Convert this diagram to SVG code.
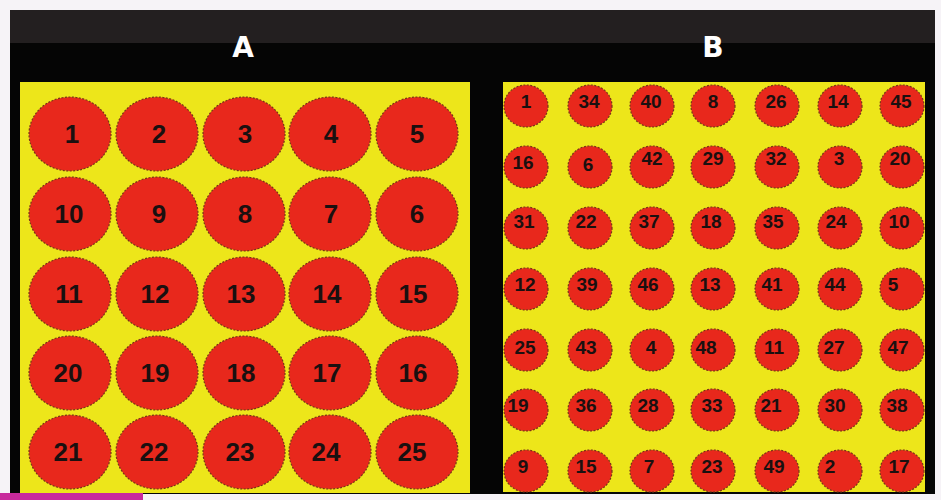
<svg xmlns="http://www.w3.org/2000/svg" width="941" height="500" viewBox="0 0 941 500">
<style>
.ca{fill:#e8281c;stroke:#7a3418;stroke-width:1.2;stroke-dasharray:2 1.5}
.ta{font-family:"Liberation Sans",Arial,sans-serif;font-weight:bold;font-size:26px;fill:#1a1010;text-anchor:middle}
.tb{font-family:"Liberation Sans",Arial,sans-serif;font-weight:bold;font-size:19px;fill:#1a1010;text-anchor:middle}
.hd{font-family:"DejaVu Sans",sans-serif;font-weight:bold;font-size:28px;fill:#ffffff;text-anchor:middle}
</style>
<rect x="0" y="0" width="941" height="500" fill="#f6f3f7"/>
<rect x="10" y="10" width="925" height="484" fill="#050505"/>
<rect x="10" y="10" width="925" height="33" fill="#231f20"/>
<rect x="0" y="493" width="143" height="7" fill="#c82a9c"/>
<text class="hd" x="243" y="57">A</text>
<text class="hd" x="713" y="57">B</text>
<g id="panelA">
<rect x="20" y="82" width="450" height="411" fill="#ede61a"/>
<g id="a1"><ellipse class="ca" cx="70" cy="134" rx="41" ry="37"/><text class="ta" x="72" y="143">1</text></g>
<g id="a2"><ellipse class="ca" cx="157" cy="134" rx="41" ry="37"/><text class="ta" x="159" y="143">2</text></g>
<g id="a3"><ellipse class="ca" cx="244" cy="134" rx="41" ry="37"/><text class="ta" x="245" y="143">3</text></g>
<g id="a4"><ellipse class="ca" cx="330" cy="134" rx="41" ry="37"/><text class="ta" x="331" y="143">4</text></g>
<g id="a5"><ellipse class="ca" cx="417" cy="134" rx="41" ry="37"/><text class="ta" x="417" y="143">5</text></g>
<g id="a10"><ellipse class="ca" cx="70" cy="214" rx="41" ry="37"/><text class="ta" x="69" y="223">10</text></g>
<g id="a9"><ellipse class="ca" cx="157" cy="214" rx="41" ry="37"/><text class="ta" x="159" y="223">9</text></g>
<g id="a8"><ellipse class="ca" cx="244" cy="214" rx="41" ry="37"/><text class="ta" x="245" y="223">8</text></g>
<g id="a7"><ellipse class="ca" cx="330" cy="214" rx="41" ry="37"/><text class="ta" x="331" y="223">7</text></g>
<g id="a6"><ellipse class="ca" cx="417" cy="214" rx="41" ry="37"/><text class="ta" x="417" y="223">6</text></g>
<g id="a11"><ellipse class="ca" cx="70" cy="294" rx="41" ry="37"/><text class="ta" x="69" y="303">11</text></g>
<g id="a12"><ellipse class="ca" cx="157" cy="294" rx="41" ry="37"/><text class="ta" x="155" y="303">12</text></g>
<g id="a13"><ellipse class="ca" cx="244" cy="294" rx="41" ry="37"/><text class="ta" x="241" y="303">13</text></g>
<g id="a14"><ellipse class="ca" cx="330" cy="294" rx="41" ry="37"/><text class="ta" x="327" y="303">14</text></g>
<g id="a15"><ellipse class="ca" cx="417" cy="294" rx="41" ry="37"/><text class="ta" x="413" y="303">15</text></g>
<g id="a20"><ellipse class="ca" cx="70" cy="373" rx="41" ry="37"/><text class="ta" x="68" y="382">20</text></g>
<g id="a19"><ellipse class="ca" cx="157" cy="373" rx="41" ry="37"/><text class="ta" x="155" y="382">19</text></g>
<g id="a18"><ellipse class="ca" cx="244" cy="373" rx="41" ry="37"/><text class="ta" x="241" y="382">18</text></g>
<g id="a17"><ellipse class="ca" cx="330" cy="373" rx="41" ry="37"/><text class="ta" x="327" y="382">17</text></g>
<g id="a16"><ellipse class="ca" cx="417" cy="373" rx="41" ry="37"/><text class="ta" x="413" y="382">16</text></g>
<g id="a21"><ellipse class="ca" cx="70" cy="452" rx="41" ry="37"/><text class="ta" x="68" y="461">21</text></g>
<g id="a22"><ellipse class="ca" cx="157" cy="452" rx="41" ry="37"/><text class="ta" x="154" y="461">22</text></g>
<g id="a23"><ellipse class="ca" cx="244" cy="452" rx="41" ry="37"/><text class="ta" x="240" y="461">23</text></g>
<g id="a24"><ellipse class="ca" cx="330" cy="452" rx="41" ry="37"/><text class="ta" x="326" y="461">24</text></g>
<g id="a25"><ellipse class="ca" cx="417" cy="452" rx="41" ry="37"/><text class="ta" x="412" y="461">25</text></g>
</g>
<g id="panelB">
<rect x="503" y="82" width="422" height="410" fill="#ede61a"/>
<g id="b1"><ellipse class="ca" cx="526" cy="106" rx="22" ry="21"/><text class="tb" x="526" y="108">1</text></g>
<g id="b34"><ellipse class="ca" cx="590" cy="106" rx="22" ry="21"/><text class="tb" x="589" y="108">34</text></g>
<g id="b40"><ellipse class="ca" cx="652" cy="106" rx="22" ry="21"/><text class="tb" x="651" y="108">40</text></g>
<g id="b8"><ellipse class="ca" cx="713" cy="106" rx="22" ry="21"/><text class="tb" x="713" y="108">8</text></g>
<g id="b26"><ellipse class="ca" cx="777" cy="106" rx="22" ry="21"/><text class="tb" x="776" y="108">26</text></g>
<g id="b14"><ellipse class="ca" cx="840" cy="106" rx="22" ry="21"/><text class="tb" x="838" y="108">14</text></g>
<g id="b45"><ellipse class="ca" cx="902" cy="106" rx="22" ry="21"/><text class="tb" x="901" y="108">45</text></g>
<g id="b16"><ellipse class="ca" cx="526" cy="167" rx="22" ry="21"/><text class="tb" x="523" y="169">16</text></g>
<g id="b6"><ellipse class="ca" cx="590" cy="167" rx="22" ry="21"/><text class="tb" x="588" y="171">6</text></g>
<g id="b42"><ellipse class="ca" cx="652" cy="167" rx="22" ry="21"/><text class="tb" x="652" y="165">42</text></g>
<g id="b29"><ellipse class="ca" cx="713" cy="167" rx="22" ry="21"/><text class="tb" x="713" y="165">29</text></g>
<g id="b32"><ellipse class="ca" cx="777" cy="167" rx="22" ry="21"/><text class="tb" x="776" y="165">32</text></g>
<g id="b3"><ellipse class="ca" cx="840" cy="167" rx="22" ry="21"/><text class="tb" x="839" y="165">3</text></g>
<g id="b20"><ellipse class="ca" cx="902" cy="167" rx="22" ry="21"/><text class="tb" x="900" y="165">20</text></g>
<g id="b31"><ellipse class="ca" cx="526" cy="228" rx="22" ry="21"/><text class="tb" x="524" y="228">31</text></g>
<g id="b22"><ellipse class="ca" cx="590" cy="228" rx="22" ry="21"/><text class="tb" x="586" y="228">22</text></g>
<g id="b37"><ellipse class="ca" cx="652" cy="228" rx="22" ry="21"/><text class="tb" x="649" y="228">37</text></g>
<g id="b18"><ellipse class="ca" cx="713" cy="228" rx="22" ry="21"/><text class="tb" x="711" y="228">18</text></g>
<g id="b35"><ellipse class="ca" cx="777" cy="228" rx="22" ry="21"/><text class="tb" x="773" y="228">35</text></g>
<g id="b24"><ellipse class="ca" cx="840" cy="228" rx="22" ry="21"/><text class="tb" x="836" y="228">24</text></g>
<g id="b10"><ellipse class="ca" cx="902" cy="228" rx="22" ry="21"/><text class="tb" x="899" y="228">10</text></g>
<g id="b12"><ellipse class="ca" cx="526" cy="289" rx="22" ry="21"/><text class="tb" x="525" y="291">12</text></g>
<g id="b39"><ellipse class="ca" cx="590" cy="289" rx="22" ry="21"/><text class="tb" x="587" y="291">39</text></g>
<g id="b46"><ellipse class="ca" cx="652" cy="289" rx="22" ry="21"/><text class="tb" x="648" y="291">46</text></g>
<g id="b13"><ellipse class="ca" cx="713" cy="289" rx="22" ry="21"/><text class="tb" x="710" y="291">13</text></g>
<g id="b41"><ellipse class="ca" cx="777" cy="289" rx="22" ry="21"/><text class="tb" x="772" y="291">41</text></g>
<g id="b44"><ellipse class="ca" cx="840" cy="289" rx="22" ry="21"/><text class="tb" x="835" y="291">44</text></g>
<g id="b5"><ellipse class="ca" cx="902" cy="289" rx="22" ry="21"/><text class="tb" x="893" y="291">5</text></g>
<g id="b25"><ellipse class="ca" cx="526" cy="350" rx="22" ry="21"/><text class="tb" x="525" y="354">25</text></g>
<g id="b43"><ellipse class="ca" cx="590" cy="350" rx="22" ry="21"/><text class="tb" x="586" y="354">43</text></g>
<g id="b4"><ellipse class="ca" cx="652" cy="350" rx="22" ry="21"/><text class="tb" x="651" y="354">4</text></g>
<g id="b48"><ellipse class="ca" cx="713" cy="350" rx="22" ry="21"/><text class="tb" x="706" y="354">48</text></g>
<g id="b11"><ellipse class="ca" cx="777" cy="350" rx="22" ry="21"/><text class="tb" x="774" y="354">11</text></g>
<g id="b27"><ellipse class="ca" cx="840" cy="350" rx="22" ry="21"/><text class="tb" x="834" y="354">27</text></g>
<g id="b47"><ellipse class="ca" cx="902" cy="350" rx="22" ry="21"/><text class="tb" x="898" y="354">47</text></g>
<g id="b19"><ellipse class="ca" cx="526" cy="410" rx="22" ry="21"/><text class="tb" x="518" y="412">19</text></g>
<g id="b36"><ellipse class="ca" cx="590" cy="410" rx="22" ry="21"/><text class="tb" x="586" y="412">36</text></g>
<g id="b28"><ellipse class="ca" cx="652" cy="410" rx="22" ry="21"/><text class="tb" x="648" y="412">28</text></g>
<g id="b33"><ellipse class="ca" cx="713" cy="410" rx="22" ry="21"/><text class="tb" x="712" y="412">33</text></g>
<g id="b21"><ellipse class="ca" cx="777" cy="410" rx="22" ry="21"/><text class="tb" x="771" y="412">21</text></g>
<g id="b30"><ellipse class="ca" cx="840" cy="410" rx="22" ry="21"/><text class="tb" x="835" y="412">30</text></g>
<g id="b38"><ellipse class="ca" cx="902" cy="410" rx="22" ry="21"/><text class="tb" x="897" y="412">38</text></g>
<g id="b9"><ellipse class="ca" cx="526" cy="471" rx="22" ry="21"/><text class="tb" x="523" y="473">9</text></g>
<g id="b15"><ellipse class="ca" cx="590" cy="471" rx="22" ry="21"/><text class="tb" x="586" y="473">15</text></g>
<g id="b7"><ellipse class="ca" cx="652" cy="471" rx="22" ry="21"/><text class="tb" x="649" y="473">7</text></g>
<g id="b23"><ellipse class="ca" cx="713" cy="471" rx="22" ry="21"/><text class="tb" x="712" y="473">23</text></g>
<g id="b49"><ellipse class="ca" cx="777" cy="471" rx="22" ry="21"/><text class="tb" x="774" y="473">49</text></g>
<g id="b2"><ellipse class="ca" cx="840" cy="471" rx="22" ry="21"/><text class="tb" x="830" y="473">2</text></g>
<g id="b17"><ellipse class="ca" cx="902" cy="471" rx="22" ry="21"/><text class="tb" x="899" y="473">17</text></g>
</g>
<g id="connectors"/>
</svg>
